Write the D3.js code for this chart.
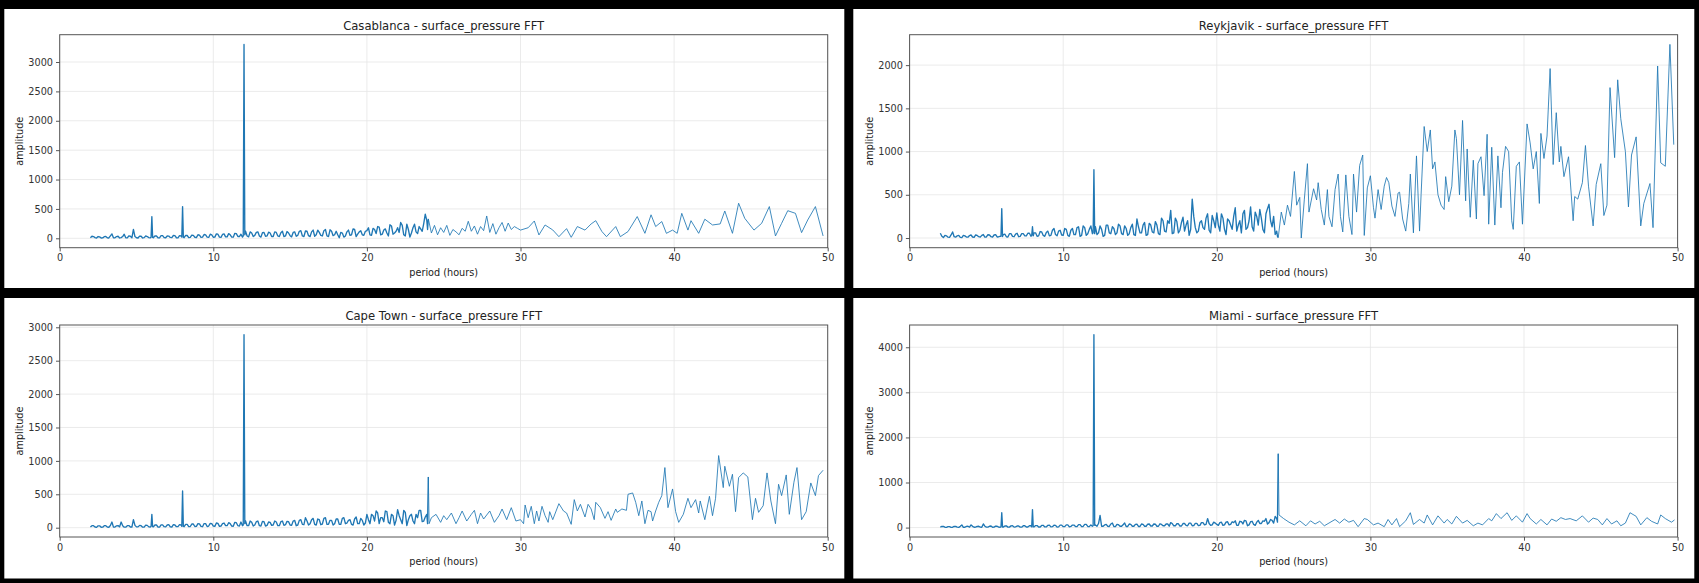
<!DOCTYPE html>
<html><head><meta charset="utf-8">
<script src="https://cdn.jsdelivr.net/npm/d3@7"></script>
<style>html,body{margin:0;padding:0;background:#000;} svg{display:block;}</style>
</head><body><svg id="chart" width="1699" height="583"></svg>
<script>
// ---------- DATA ----------
const cities = ["Casablanca", "Reykjavik", "Cape Town", "Miami"];
const variableName = "surface_pressure";
const xTicks = [0, 10, 20, 30, 40, 50];
const casablancaTicks = [0, 500, 1000, 1500, 2000, 2500, 3000];
const reykjavikTicks = [0, 500, 1000, 1500, 2000];
const capeTownTicks = [0, 500, 1000, 1500, 2000, 2500, 3000];
const miamiTicks = [0, 1000, 2000, 3000, 4000];

// shared dense period grid (hours), 2 h .. 24 h
const densePeriod = [
2.0,2.2,2.4,2.6,2.8,3.0,3.2,3.4,3.6,3.8,
4.0,4.2,4.4,4.6,4.8,5.0,5.2,5.4,5.6,5.8,
5.95,6.0,6.05,6.2,6.4,6.6,6.8,7.0,7.2,7.4,
7.6,7.8,7.95,8.0,8.05,8.2,8.4,8.6,8.8,9.0,
9.2,9.4,9.6,9.8,10.0,10.2,10.4,10.6,10.8,11.0,
11.2,11.4,11.6,11.8,11.95,12.0,12.05,12.2,12.4,12.6,
12.8,13.0,13.2,13.4,13.6,13.8,14.0,14.2,14.4,14.6,
14.8,15.0,15.2,15.4,15.6,15.8,16.0,16.2,16.4,16.6,
16.8,17.0,17.2,17.4,17.6,17.8,18.0,18.2,18.4,18.6,
18.8,19.0,19.2,19.4,19.6,19.8,20.0,20.2,20.4,20.6,
20.8,21.0,21.2,21.4,21.6,21.8,22.0,22.2,22.4,22.6,
22.8,23.0,23.2,23.4,23.6,23.8,23.95,24.0];
// in-between periods of the dense region
const midPeriod = [
2.1,2.3,2.5,2.7,2.9,3.1,3.3,3.5,3.7,3.9,
4.1,4.3,4.5,4.7,4.9,5.1,5.3,5.5,5.7,5.9,
6.1,6.3,6.5,6.7,6.9,7.1,7.3,7.5,7.7,7.9,
8.1,8.3,8.5,8.7,8.9,9.1,9.3,9.5,9.7,9.9,
10.1,10.3,10.5,10.7,10.9,11.1,11.3,11.5,11.7,11.9,
12.1,12.3,12.5,12.7,12.9,13.1,13.3,13.5,13.7,13.9,
14.1,14.3,14.5,14.7,14.9,15.1,15.3,15.5,15.7,15.9,
16.1,16.3,16.5,16.7,16.9,17.1,17.3,17.5,17.7,17.9,
18.1,18.3,18.5,18.7,18.9,19.1,19.3,19.5,19.7,19.9,
20.1,20.3,20.5,20.7,20.9,21.1,21.3,21.5,21.7,21.9,
22.1,22.3,22.5,22.7,22.9,23.1,23.3,23.5,23.7,23.9];

const casablancaDense = [
10,30,5,25,8,32,6,75,10,35,
12,70,8,35,150,10,38,6,40,12,
20,370,15,42,10,45,12,40,15,48,
10,45,20,540,18,50,12,55,18,60,
15,65,20,70,18,75,20,65,25,80,
20,85,30,70,40,3300,60,40,110,30,
100,40,95,35,105,30,110,40,95,30,
115,45,100,35,120,40,125,45,110,35,
140,50,130,40,145,45,120,10,90,40,
140,60,150,70,130,50,130,60,170,80,
190,70,160,40,210,90,180,270,60,240,
20,180,110,200,120,410,150,330];
const casablancaMid = [
35,12,30,5,28,10,40,8,30,6,
30,10,40,8,30,5,35,12,30,8,
10,40,8,45,10,38,12,45,8,40,
10,48,15,50,12,55,20,58,15,60,
20,70,15,75,25,60,20,80,30,20,
120,25,90,50,110,20,100,40,90,30,
100,30,120,40,90,25,110,50,130,30,
120,30,140,60,100,40,150,30,120,60,
60,100,20,110,50,160,30,110,60,120,
180,50,150,200,60,140,90,230,70,120,
100,220,40,150,90,240,80,160,250,300];
const casablancaTailPeriod = [
24.2,24.4,24.6,24.8,25.0,25.2,25.4,25.6,25.8,26.0,
26.2,26.4,26.6,26.8,27.0,27.2,27.4,27.6,27.8,28.0,
28.2,28.4,28.6,28.8,29.0,29.2,29.4,29.6,29.8,30.0,
30.5,30.9,31.2,31.6,32.1,32.5,33.0,33.3,33.7,34.2,
34.6,34.9,35.3,35.6,36.2,36.5,37.0,37.6,38.1,38.5,
38.8,39.2,39.5,39.9,40.2,40.5,40.9,41.1,41.6,42.0,
42.5,43.0,43.3,43.8,44.2,44.6,45.2,45.7,46.2,46.6,
47.0,47.4,47.9,48.3,48.7,49.2,49.7];
const casablancaTailAmp = [
90,220,60,180,100,220,50,150,110,60,
170,120,290,120,210,70,200,130,380,100,
250,70,180,270,120,260,150,200,170,140,
180,295,57,227,142,28,165,17,200,140,
245,300,115,28,200,28,115,370,85,400,
200,285,85,140,85,425,140,300,85,325,
227,245,465,85,597,340,140,255,540,40,
255,470,425,97,312,540,40];

const reykjavikDense = [
55,5,25,8,70,10,30,5,25,10,
35,8,30,10,40,12,35,10,40,15,
20,340,18,45,12,50,15,55,20,50,
25,55,30,130,25,60,25,70,20,80,
30,110,25,90,30,100,20,110,40,130,
30,120,50,140,60,790,50,40,140,20,
150,60,130,40,160,50,140,30,120,40,
220,60,150,30,170,70,190,50,230,80,
200,320,60,190,90,240,150,30,450,120,
80,200,100,280,60,200,290,80,230,40,
200,100,350,150,60,320,120,360,80,250,
330,100,280,390,130,40,20,5];
const reykjavikMid = [
20,30,10,35,15,25,8,30,12,28,
12,35,15,30,10,38,15,35,12,20,
40,15,50,20,45,15,50,25,55,20,
60,20,75,30,65,25,90,40,80,35,
110,30,90,40,120,20,140,30,100,50,
130,60,100,30,150,50,110,60,140,40,
110,50,160,30,130,60,180,40,150,60,
150,40,200,70,170,50,230,60,180,80,
200,100,250,60,180,120,230,90,260,120,
150,280,100,220,150,250,80,200,280,100,
200,130,300,150,230,60,340,200,250,80];
const reykjavikTailPeriod = [
24.2,24.4,24.6,24.8,25.05,25.2,25.4,25.5,25.7,25.9,
26.0,26.3,26.5,26.6,26.8,27.0,27.2,27.3,27.5,27.7,
27.9,28.05,28.2,28.4,28.6,28.8,28.9,29.1,29.3,29.5,
29.6,29.8,30.0,30.2,30.3,30.5,30.7,30.9,31.05,31.2,
31.4,31.6,31.8,31.9,32.1,32.3,32.5,32.6,32.8,33.0,
33.2,33.3,33.5,33.7,33.9,34.05,34.2,34.4,34.6,34.8,
34.9,35.1,35.3,35.5,35.6,35.8,36.0,36.2,36.3,36.5,
36.7,36.9,37.0,37.2,37.4,37.6,37.7,37.9,38.1,38.3,
38.5,38.6,38.8,39.0,39.2,39.3,39.5,39.7,39.9,40.2,
40.4,40.6,40.8,41.0,41.1,41.3,41.5,41.7,41.9,42.1,
42.3,42.4,42.6,42.9,43.2,43.3,43.5,43.8,44.0,44.2,
44.5,44.7,45.0,45.2,45.4,45.6,45.9,46.1,46.3,46.6,
46.8,47.0,47.3,47.6,47.8,48.2,48.4,48.7,48.9,49.2,
49.5,49.75];
const reykjavikTailAmp = [
300,150,380,250,770,380,470,0,450,860,
300,570,440,640,330,150,560,250,130,560,
740,250,70,730,250,40,740,300,840,960,
30,580,720,350,230,560,330,600,700,640,
370,250,520,530,220,80,400,740,60,950,
80,500,1290,1000,1250,800,880,500,380,330,
710,420,600,1250,1150,500,1360,430,1030,240,
900,220,860,940,490,1200,160,1050,150,950,
350,760,1060,1000,200,100,830,880,160,1320,
1100,800,1000,400,1210,920,1180,1960,850,1450,
880,1060,710,940,200,480,450,640,1070,600,
140,620,860,260,380,1740,930,1830,1380,1000,
360,960,1170,140,400,630,120,1990,870,830,
2240,1080];

const capeTownDense = [
10,30,5,28,8,30,6,85,10,32,
85,8,30,10,120,12,35,8,38,12,
20,200,15,40,10,42,15,40,12,45,
15,45,20,550,20,50,15,55,18,60,
20,62,18,65,25,70,20,60,30,75,
25,80,30,85,40,2890,60,30,100,25,
90,30,95,25,85,35,100,30,90,35,
95,40,100,30,110,50,150,40,120,50,
130,45,140,50,110,40,130,50,140,60,
110,50,130,60,140,40,200,60,180,250,
60,150,250,80,200,40,270,120,260,30,
180,100,200,260,90,160,60,760];
const capeTownMid = [
30,10,28,6,30,10,32,8,28,12,
30,8,32,10,35,12,30,8,35,10,
12,40,8,42,12,45,10,40,15,40,
15,50,18,55,20,58,15,60,25,62,
20,65,25,70,30,60,20,75,25,30,
100,30,80,40,100,25,90,35,80,40,
85,30,100,45,90,35,110,40,120,45,
100,60,140,40,120,55,150,50,110,60,
130,50,150,70,120,40,160,60,110,70,
120,200,100,220,150,90,240,60,180,110,
180,60,230,120,200,60,150,260,100,200];
const capeTownTailPeriod = [
24.05,24.2,24.5,24.8,25.0,25.2,25.5,25.8,26.0,26.2,
26.5,26.8,27.0,27.2,27.4,27.6,28.0,28.3,28.6,28.8,
29.1,29.4,29.7,30.0,30.2,30.3,30.5,30.7,30.9,31.05,
31.2,31.4,31.6,31.8,31.9,32.1,32.5,32.8,33.0,33.3,
33.5,33.7,33.9,34.2,34.4,34.6,34.8,34.9,35.2,35.5,
35.7,35.9,36.2,36.3,36.6,36.9,37.0,37.3,37.5,37.7,
37.9,38.1,38.3,38.5,38.6,38.8,39.0,39.2,39.4,39.6,
39.9,40.1,40.3,40.6,40.9,41.1,41.4,41.6,41.7,42.0,
42.3,42.5,42.7,42.9,43.2,43.3,43.6,43.8,44.0,44.2,
44.5,44.8,45.1,45.3,45.5,45.8,46.05,46.3,46.6,46.8,
47.0,47.3,47.5,47.8,48.0,48.3,48.6,48.9,49.2,49.4,
49.7];
const capeTownTailAmp = [
60,150,200,80,180,120,220,60,150,250,
100,200,260,60,220,130,250,80,180,280,
120,300,100,120,60,340,150,320,60,250,
100,320,180,80,240,120,360,250,220,50,
420,250,350,160,350,280,120,380,300,140,
240,110,280,230,280,260,500,520,380,180,
400,60,260,240,100,250,380,480,900,300,
580,240,80,200,440,300,420,220,400,120,
470,180,440,1080,600,920,620,800,240,750,
820,760,120,440,230,330,820,400,60,650,
480,790,200,680,900,120,240,670,480,780,
860];

const miamiDense = [
10,25,5,22,8,28,6,60,8,30,
60,8,25,10,80,10,30,8,32,10,
15,330,12,35,10,38,12,35,10,40,
12,40,15,400,15,45,12,48,15,50,
15,52,12,55,20,60,15,55,25,65,
20,70,25,60,40,4280,50,30,270,30,
70,25,100,20,65,30,100,25,70,30,
75,25,70,30,80,35,75,30,70,40,
80,110,40,85,35,90,50,100,40,95,
45,110,60,200,50,120,70,110,50,120,
60,130,150,50,130,160,40,130,70,120,
90,150,200,110,160,250,120,1640];
const miamiMid = [
25,8,22,5,25,10,28,6,28,10,
28,10,30,8,30,10,35,10,30,8,
10,38,10,40,15,35,10,40,12,40,
15,45,12,50,15,55,20,50,15,55,
20,60,25,55,20,65,25,70,20,30,
60,90,30,60,30,80,25,70,30,65,
25,80,30,70,25,80,30,75,35,80,
30,85,40,80,30,90,40,85,35,90,
40,100,45,95,50,110,70,90,60,100,
50,120,60,130,70,110,50,140,80,150,
60,140,50,160,90,140,80,180,100,200];
const miamiTailPeriod = [
24.05,24.35,24.7,25.05,25.4,25.8,26.1,26.4,26.7,27.0,
27.3,27.7,28.0,28.3,28.6,28.9,29.2,29.6,29.8,30.2,
30.5,30.9,31.15,31.4,31.7,31.9,32.3,32.6,32.8,33.2,
33.5,33.7,34.05,34.4,34.8,35.0,35.3,35.6,36.0,36.3,
36.7,37.0,37.3,37.7,37.9,38.2,38.5,38.9,39.2,39.5,
39.9,40.2,40.4,40.8,41.1,41.5,41.8,42.1,42.4,42.7,
43.0,43.4,43.8,44.2,44.5,44.8,45.1,45.4,45.7,46.05,
46.3,46.6,46.9,47.3,47.6,48.0,48.3,48.7,48.9,49.2,
49.6,49.8];
const miamiTailAmp = [
280,200,120,60,150,40,150,80,140,40,
100,180,100,190,120,160,20,200,180,60,
100,20,180,60,200,20,150,330,70,180,
100,280,60,260,100,180,80,250,100,160,
40,100,60,200,150,310,200,330,160,260,
120,310,200,80,180,60,190,140,220,180,
200,150,260,120,210,180,60,200,80,150,
40,100,330,250,60,220,140,80,280,200,
120,170];

// ---------- LAYOUT ----------
const W = 1699, H = 583;
const panelX = [4.3, 853.3], panelW = [840, 841];
const panelY = [9, 298], panelH = [279, 280.5];
const plotLeft = [59.7, 909.6], plotW = 768;
const plotTop = [34.7, 325], plotBottom = [247.7, 537];
const FONT = "DejaVu Sans, Liberation Sans, sans-serif";
const LINE = "#1f77b4";
const DENSE_END = 24; // hours: below this the spectrum is drawn as a dense band

function series(dense, mid, tailP, tailA) {
  const pts = densePeriod.map((p, i) => [p, dense[i]])
    .concat(midPeriod.map((p, i) => [p, mid[i]]))
    .concat(tailP.map((p, i) => [p, tailA[i]]));
  return pts.sort((a, b) => a[0] - b[0]);
}

const panels = [
  {city: cities[0], col: 0, row: 0, pts: series(casablancaDense, casablancaMid, casablancaTailPeriod, casablancaTailAmp), ticks: casablancaTicks},
  {city: cities[1], col: 1, row: 0, pts: series(reykjavikDense, reykjavikMid, reykjavikTailPeriod, reykjavikTailAmp), ticks: reykjavikTicks},
  {city: cities[2], col: 0, row: 1, pts: series(capeTownDense, capeTownMid, capeTownTailPeriod, capeTownTailAmp), ticks: capeTownTicks},
  {city: cities[3], col: 1, row: 1, pts: series(miamiDense, miamiMid, miamiTailPeriod, miamiTailAmp), ticks: miamiTicks}
];

const svg = d3.select("#chart");
svg.append("rect").attr("x", 0).attr("y", 0).attr("width", W).attr("height", H).attr("fill", "#000");

panels.forEach(p => {
  const g = svg.append("g");
  g.append("rect")
    .attr("x", panelX[p.col]).attr("y", panelY[p.row])
    .attr("width", panelW[p.col]).attr("height", panelH[p.row])
    .attr("fill", "#fff");

  const x0 = plotLeft[p.col], x1 = x0 + plotW;
  const y0 = plotTop[p.row], y1 = plotBottom[p.row];
  const ext = d3.extent(p.pts, d => d[1]);
  const pad = (ext[1] - ext[0]) * 0.05;

  const x = d3.scaleLinear().domain([0, 50]).range([x0, x1]);
  const y = d3.scaleLinear().domain([ext[0] - pad, ext[1] + pad]).range([y1, y0]);

  // grid
  g.append("g").selectAll("line").data(xTicks).join("line")
    .attr("x1", d => x(d)).attr("x2", d => x(d)).attr("y1", y0).attr("y2", y1)
    .attr("stroke", "#e6e6e6").attr("stroke-width", 0.8);
  g.append("g").selectAll("line").data(p.ticks).join("line")
    .attr("x1", x0).attr("x2", x1).attr("y1", d => y(d)).attr("y2", d => y(d))
    .attr("stroke", "#e6e6e6").attr("stroke-width", 0.8);

  // data line: dense band part drawn slightly heavier, like the overlapping FFT samples
  const line = d3.line().x(d => x(d[0])).y(d => y(d[1]));
  const densePts = p.pts.filter(d => d[0] <= DENSE_END);
  const tailPts = p.pts.filter(d => d[0] >= DENSE_END);
  g.append("path").datum(densePts).attr("d", line)
    .attr("fill", "none").attr("stroke", LINE).attr("stroke-width", 1.35)
    .attr("stroke-linejoin", "round");
  g.append("path").datum(tailPts).attr("d", line)
    .attr("fill", "none").attr("stroke", LINE).attr("stroke-width", 0.85)
    .attr("stroke-linejoin", "round");

  // spines
  g.append("rect").attr("x", x0).attr("y", y0).attr("width", plotW).attr("height", y1 - y0)
    .attr("fill", "none").attr("stroke", "#555").attr("stroke-width", 1);

  // axes
  const xa = g.append("g").attr("transform", `translate(0,${y1})`)
    .call(d3.axisBottom(x).tickValues(xTicks).tickSize(3.7).tickPadding(3).tickFormat(d3.format("d")));
  const ya = g.append("g").attr("transform", `translate(${x0},0)`)
    .call(d3.axisLeft(y).tickValues(p.ticks).tickSize(3.7).tickPadding(3).tickFormat(d3.format("d")));
  [xa, ya].forEach(a => {
    a.select(".domain").remove();
    a.selectAll(".tick line").attr("stroke", "#444").attr("stroke-width", 0.9);
    a.selectAll(".tick text").attr("fill", "#333").style("font-family", FONT).style("font-size", "9.7px");
  });

  // title and axis labels
  g.append("text").attr("x", (x0 + x1) / 2).attr("y", y0 - 4.8)
    .attr("text-anchor", "middle").attr("fill", "#222")
    .style("font-family", FONT).style("font-size", "11.6px")
    .text(`${p.city} - ${variableName} FFT`);
  g.append("text").attr("x", (x0 + x1) / 2).attr("y", y1 + 28)
    .attr("text-anchor", "middle").attr("fill", "#222")
    .style("font-family", FONT).style("font-size", "9.7px")
    .text("period (hours)");
  g.append("text").attr("transform", `translate(${x0 - 37},${(y0 + y1) / 2}) rotate(-90)`)
    .attr("text-anchor", "middle").attr("fill", "#222")
    .style("font-family", FONT).style("font-size", "9.7px")
    .text("amplitude");
});
</script>
</body></html>
